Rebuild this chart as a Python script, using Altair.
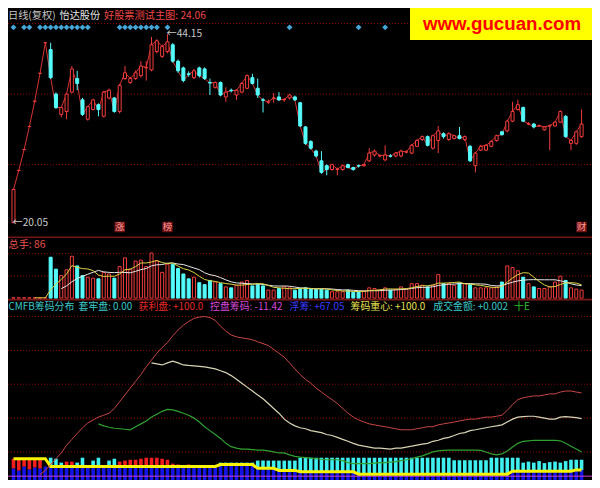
import altair as alt
import pandas as pd

# ================= DATA =================
# daily candles (yuan)
opens = [20.05, 26.73, 29.40, 32.35, 35.58, 39.14, 43.05, 42.17, 36.49, 33.89,
         34.26, 36.74, 38.47, 35.75, 33.28, 34.51, 35.13, 33.65, 35.99, 35.99,
         34.26, 38.47, 37.97, 38.47, 38.84, 39.83, 39.58, 41.93, 41.31, 41.93,
         42.79, 40.69, 39.83, 39.08, 38.59, 39.83, 39.70, 37.97, 37.35, 37.97,
         36.12, 36.98, 36.37, 36.74, 37.23, 38.59, 37.23, 35.75, 35.45, 35.95,
         36.12, 35.75, 35.99, 36.12, 35.38, 32.29, 30.43, 29.20, 27.96, 27.34,
         26.85, 26.85, 26.85, 27.47, 27.10, 27.34, 27.34, 27.96, 28.70, 28.58,
         28.08, 28.58, 28.58, 28.58, 29.07, 28.95, 29.81, 30.68, 31.05, 29.57,
         30.56, 31.42, 30.68, 30.80, 31.17, 30.68, 29.81, 27.34, 29.32, 29.32,
         29.81, 30.56, 31.67, 31.79, 33.03, 34.51, 34.76, 32.66, 32.66, 32.41,
         31.92, 32.41, 32.41, 32.90, 33.65, 30.19, 30.19, 31.05]
highs = [24.30, 26.73, 29.40, 32.35, 35.58, 39.14, 43.05, 43.05, 36.70, 34.90,
         36.60, 40.07, 39.46, 36.00, 35.00, 35.90, 35.30, 36.90, 37.20, 36.10,
         37.80, 40.07, 38.70, 39.50, 40.69, 40.69, 43.78, 43.50, 42.80, 44.15,
         43.00, 40.90, 40.00, 39.40, 39.70, 40.00, 39.90, 38.47, 38.10, 38.10,
         37.35, 37.20, 37.10, 38.00, 39.00, 39.08, 38.47, 36.00, 35.80, 36.61,
         36.74, 36.00, 36.50, 36.30, 35.50, 32.40, 30.60, 29.40, 29.20, 27.50,
         27.60, 27.10, 27.50, 27.60, 27.20, 27.50, 27.60, 29.57, 29.40, 28.80,
         29.94, 28.80, 29.10, 29.40, 29.30, 30.10, 30.70, 31.20, 31.20, 31.30,
         32.41, 31.60, 31.60, 31.30, 32.29, 31.20, 30.00, 29.10, 30.00, 30.10,
         30.60, 31.30, 31.80, 33.20, 35.50, 35.75, 34.90, 32.90, 32.80, 32.60,
         32.40, 32.60, 33.00, 34.40, 33.80, 30.70, 31.80, 34.51]
lows = [20.05, 26.73, 29.40, 32.35, 35.58, 39.14, 43.05, 38.40, 34.60, 33.52,
        33.28, 36.60, 36.98, 33.70, 33.10, 34.40, 33.65, 33.50, 35.80, 34.10,
        34.00, 38.30, 37.80, 38.30, 38.60, 38.22, 39.40, 41.70, 41.10, 41.70,
        40.50, 39.20, 38.00, 38.70, 38.40, 38.60, 38.30, 36.37, 37.20, 36.20,
        35.50, 36.70, 35.75, 36.60, 37.10, 37.70, 35.99, 34.14, 35.20, 35.38,
        35.60, 35.50, 35.80, 35.60, 32.30, 30.00, 29.40, 28.40, 26.30, 26.11,
        26.70, 26.11, 26.70, 27.00, 26.70, 27.10, 27.20, 27.80, 28.50, 28.40,
        27.90, 28.40, 28.40, 28.40, 28.90, 28.80, 29.70, 30.50, 29.80, 29.40,
        28.95, 30.80, 30.50, 30.70, 30.70, 30.50, 27.80, 26.48, 29.20, 29.20,
        29.70, 30.40, 31.20, 31.60, 32.90, 34.40, 32.90, 32.50, 32.10, 32.30,
        31.80, 29.32, 32.30, 32.80, 30.90, 29.32, 30.00, 30.90]
closes = [24.30, 26.73, 29.40, 32.35, 35.58, 39.14, 43.05, 38.59, 34.76, 34.76,
          36.49, 39.70, 37.85, 33.89, 34.88, 35.75, 34.51, 36.74, 36.98, 34.26,
          37.60, 39.21, 38.47, 39.21, 40.07, 39.90, 42.79, 43.29, 42.55, 43.16,
          40.69, 39.46, 38.22, 39.00, 39.46, 38.84, 38.47, 37.90, 37.97, 36.37,
          36.74, 36.92, 36.98, 37.85, 38.84, 37.85, 36.37, 35.70, 35.50, 35.99,
          35.75, 35.80, 36.37, 35.75, 32.41, 30.19, 29.57, 28.58, 26.48, 26.85,
          27.47, 26.90, 27.34, 27.10, 26.85, 27.30, 27.47, 28.95, 29.20, 28.62,
          28.70, 28.55, 28.95, 29.20, 29.10, 29.94, 30.56, 31.05, 29.94, 31.17,
          31.79, 31.05, 31.42, 31.17, 30.80, 31.05, 27.96, 28.95, 29.81, 29.94,
          30.43, 31.17, 31.30, 33.03, 34.26, 35.13, 33.03, 32.70, 32.29, 32.45,
          32.29, 32.45, 32.90, 34.26, 31.05, 30.56, 31.67, 32.66]
volumes = [1, 1, 1, 1, 1, 1, 1, 127, 90, 70,
           88, 130, 100, 70, 65, 62, 60, 80, 75, 62,
           98, 125, 90, 115, 118, 98, 140, 115, 80, 105,
           105, 92, 75, 60, 65, 48, 42, 55, 50, 45,
           35, 32, 40, 50, 55, 38, 42, 38, 25, 25,
           30, 35, 32, 25, 30, 32, 30, 27, 27, 25,
           20, 20, 20, 25, 18, 20, 22, 32, 30, 25,
           32, 25, 28, 35, 28, 45, 45, 40, 35, 40,
           73, 45, 45, 40, 47, 45, 42, 32, 32, 32,
           32, 35, 50, 100, 95, 85, 65, 45, 35, 30,
           30, 35, 50, 68, 55, 32, 28, 25]

diamond_idx = [0, 2, 3, 5, 6, 7, 8, 9, 10, 11, 12, 13, 14,
               20, 21, 22, 23, 24, 25, 26, 27, 29, 52, 65, 70]
diamond_level = 45.02
event_idx = [20, 29, 107]
event_text = ["涨", "榜", "财"]
price_grid = [45.51, 36.49, 27.47]
vol_grid = [69, 138]
cmfb_grid = [20, 40, 60, 80, 100]

# CMFB indicator
profit_start = 5
profit = [6.6, 9.1, 12.6, 16.0, 19.4, 24.0, 27.4, 30.9, 34.3, 37.1, 38.9,
          40.6, 41.7, 42.9, 45.7, 49.7, 53.7, 57.7, 61.7, 65.7, 70.3,
          74.3, 78.3, 81.7, 84.6, 88.6, 92.0, 94.9, 97.1, 98.9, 99.7,
          100.0, 99.4, 97.7, 94.3, 91.4, 89.1, 88.0, 87.4, 86.9, 86.3,
          85.1, 84.0, 82.9, 80.6, 78.3, 76.0, 72.6, 69.1, 65.7, 62.9,
          60.6, 57.7, 55.4, 53.1, 50.9, 48.6, 45.7, 42.9, 40.6, 38.9,
          37.7, 36.6, 36.0, 35.4, 34.9, 34.3, 33.7, 33.1, 33.1, 33.1,
          33.7, 34.3, 34.9, 34.9, 36.0, 36.6, 37.1, 37.7, 38.3, 38.9,
          39.4, 39.4, 40.0, 40.6, 40.6, 41.1, 41.7, 44.6, 48.0, 50.9,
          52.0, 52.6, 53.1, 53.1, 53.7, 54.3, 54.3, 55.4, 56.0, 56.0,
          55.4, 54.9]
cost_start = 26
cost = [72.6, 72.0, 71.4, 72.6, 73.7, 72.6, 71.4, 71.1, 70.9, 70.6,
        70.3, 69.7, 69.1, 68.0, 66.9, 65.1, 62.9, 60.6, 58.3, 56.0,
        53.7, 51.4, 48.6, 45.7, 42.9, 39.4, 37.1, 35.4, 34.3, 33.7,
        32.6, 32.0, 31.4, 30.3, 29.7, 28.6, 27.4, 26.3, 25.1, 24.0,
        23.4, 22.9, 22.3, 22.3, 22.0, 21.7, 22.3, 22.3, 22.9, 23.4,
        24.0, 24.6, 25.1, 26.3, 26.9, 28.0, 28.6, 29.7, 30.9, 31.4,
        32.6, 33.1, 33.7, 34.3, 34.9, 35.4, 36.0, 37.7, 39.4, 40.6,
        40.9, 41.1, 41.1, 40.6, 40.0, 39.4, 39.4, 40.6, 40.9, 40.6,
        40.3, 39.7]
control_start = 16
control = [36.6, 35.4, 34.6, 34.0, 33.7, 33.4, 33.1, 34.9, 36.6, 38.3,
           40.6, 42.3, 44.0, 45.1, 44.9, 44.0, 42.9, 41.7, 40.0, 37.7,
           34.9, 32.6, 30.3, 28.0, 25.1, 23.1, 22.3, 21.7, 21.7, 21.4,
           21.1, 21.1, 20.6, 20.0, 19.4, 19.4, 18.3, 17.4, 16.9, 16.6,
           16.3, 16.0, 15.7, 15.4, 15.4, 15.4, 14.9, 13.7, 13.1, 13.1,
           13.1, 13.1, 13.4, 13.7, 13.7, 14.0, 14.3, 14.9, 15.4, 16.0,
           16.9, 17.7, 18.9, 20.0, 20.6, 20.9, 21.1, 21.1, 21.1, 21.1,
           21.1, 21.1, 20.9, 20.0, 18.9, 18.3, 18.9, 20.6, 22.9, 25.1,
           26.3, 26.6, 26.9, 26.9, 26.9, 26.9, 26.9, 26.6, 25.1, 23.4,
           21.7, 20.0]
center = [16.0, 16.0, 16.0, 16.0, 16.0, 16.0, 16.0, 11.4, 11.4, 11.4,
          11.4, 11.4, 11.4, 11.4, 11.4, 11.4, 11.4, 11.4, 11.4, 11.4,
          11.4, 11.4, 11.4, 11.4, 11.4, 11.4, 11.4, 11.4, 11.4, 11.4,
          11.4, 11.4, 11.4, 11.4, 11.4, 11.4, 11.4, 11.4, 11.4, 12.6,
          12.6, 12.6, 12.6, 12.6, 12.6, 12.6, 10.3, 10.3, 10.3, 10.3,
          9.1, 9.1, 9.1, 9.1, 8.3, 8.3, 8.3, 8.3, 8.3, 8.3,
          8.3, 8.3, 8.3, 8.3, 8.3, 6.9, 6.9, 6.9, 6.9, 6.9,
          6.9, 6.9, 6.9, 6.9, 6.9, 6.9, 6.9, 6.9, 6.9, 6.9,
          6.9, 6.9, 6.9, 6.9, 6.9, 6.9, 6.9, 6.9, 6.9, 6.9,
          6.9, 6.9, 6.9, 6.9, 8.6, 8.6, 8.6, 8.6, 8.6, 8.6,
          8.6, 8.6, 8.6, 8.6, 8.6, 8.6, 9.4, 9.4]
base_chips = [10.3, 9.1, 11.4, 9.7, 10.9, 10.3, 11.4]
red_chips = ([16.0, 16.0, 16.0, 16.0, 16.0, 16.0, None, None, None, None,
              14.3, 14.3, None, None, None, None, None, None, None, None,
              14.3, 14.9, 15.4, 15.4, 16.0, 16.6, 16.6, 16.6, 16.0, 15.4,
              13.1, 12.6, None, 12.6] + [None] * 74)
cyan_chips = [None, None, None, None, None, None, None, 16.6, 16.0, 13.7,
              None, None, 13.7, 16.6, None, 14.9, 16.6, None, 14.9, 16.0,
              None, None, None, None, None, None, None, None, None, None,
              None, None, None, None, None, None, None, None, None, 13.7,
              13.7, 13.7, 13.7, 13.7, 13.7, 13.7, 14.9, 14.9, 14.9, 14.9,
              14.9, 14.9, 14.9, 14.9, 16.6, 16.6, 16.6, 16.6, 16.6, 16.6,
              16.6, 16.6, 16.6, 16.6, 16.6, 16.6, 16.6, 16.6, 16.6, 16.6,
              16.6, 16.6, 16.6, 16.6, 16.6, 16.6, 16.6, 16.6, 16.6, 16.6,
              16.6, 16.6, 16.6, 15.1, 15.1, 15.1, 15.1, 15.1, 15.1, 15.1,
              16.6, 16.6, 16.6, 16.6, 16.6, 16.6, 13.7, 14.3, 13.7, 14.6,
              13.4, 14.0, 14.3, 13.7, 14.6, 15.4, 15.4, 15.4]
float_level = 5.7

# ================= BUILD =================
W, H = 584, 472
CJK = "Noto Sans CJK SC"
RED = "#f23c3c"
CYAN = "#54fcfc"
GRID = "#8b0000"

N = len(closes)
idx = list(range(N))
df = pd.DataFrame(dict(i=idx, o=opens, h=highs, l=lows, c=closes, v=volumes))
df["z"] = 0
up = df[df.c >= df.o]
dn = df[df.c < df.o]

blue_top = base_chips + center[len(base_chips):]
chips = pd.DataFrame(dict(i=idx, btop=blue_top, rtop=red_chips, ctop=cyan_chips, yel=center))
chips["bb"] = 3.0
red_df = chips.dropna(subset=["rtop"])
cyan_df = chips.dropna(subset=["ctop"])


def series(start, vals):
    return pd.DataFrame(dict(i=list(range(start, start + len(vals))), val=vals))


X = alt.X("i:Q", scale=alt.Scale(domain=[-0.09, 108.02], nice=False, zero=False), axis=None)
SA = alt.Scale(domain=[-12.83, 47.489], nice=False, zero=False)
SB = alt.Scale(domain=[-564, 900], nice=False, zero=False)
SC = alt.Scale(domain=[3.43, 282.29], nice=False, zero=False)


def Y(f, s):
    return alt.Y(f, scale=s, axis=None)


def T(s, x, y, color, size=10.2, font=CJK, weight="normal", align="left"):
    return alt.Chart(alt.Data(values=[{}])).mark_text(
        text=s, align=align, baseline="middle", font=font, fontSize=size,
        color=color, fontWeight=weight
    ).encode(x=alt.value(x), y=alt.value(y))


def hrule(y, color, width=1.5):
    return alt.Chart(alt.Data(values=[{}])).mark_rule(color=color, strokeWidth=width).encode(
        x=alt.value(0), x2=alt.value(W), y=alt.value(y))


def grid(vals, s):
    return alt.Chart(pd.DataFrame(dict(g=vals))).mark_rule(
        color=GRID, strokeDash=[1, 2], strokeWidth=1
    ).encode(y=Y("g:Q", s), x=alt.value(0), x2=alt.value(W))


layers = []
# ---- main panel ----
layers.append(grid(price_grid, SA))
layers.append(alt.Chart(df).mark_line(color="#d83232", strokeWidth=1).encode(x=X, y=Y("c:Q", SA)))
layers.append(alt.Chart(up).mark_rule(color=RED, strokeWidth=1).encode(x=X, y=Y("l:Q", SA), y2="h:Q"))
layers.append(alt.Chart(dn).mark_rule(color=CYAN, strokeWidth=1).encode(x=X, y=Y("l:Q", SA), y2="h:Q"))
layers.append(alt.Chart(up).mark_bar(size=3, fill="black", stroke=RED, strokeWidth=1).encode(
    x=X, y=Y("o:Q", SA), y2="c:Q"))
layers.append(alt.Chart(dn).mark_bar(size=3, fill=CYAN, stroke=CYAN, strokeWidth=1).encode(
    x=X, y=Y("o:Q", SA), y2="c:Q"))
layers.append(alt.Chart(pd.DataFrame(dict(i=diamond_idx, p=diamond_level))).mark_point(
    shape="diamond", filled=True, size=34, color="#46a6d8", opacity=1).encode(x=X, y=Y("p:Q", SA)))

hi_i = highs.index(max(highs))
lo_i = lows.index(min(lows))
ext = pd.DataFrame(dict(i=[hi_i, lo_i], p=[max(highs), min(lows)],
                        t=["←%.2f" % max(highs), "←%.2f" % min(lows)]))
layers.append(alt.Chart(ext).mark_text(align="left", baseline="middle", font=CJK, fontSize=10.2,
                                       color="#c8c8c8", dx=-1).encode(x=X, y=Y("p:Q", SA), text="t:N"))

ev = pd.DataFrame(dict(i=event_idx, t=event_text))
layers.append(alt.Chart(ev).mark_point(shape="square", filled=True, size=110, color="#701212",
                                       opacity=1).encode(x=X, y=alt.value(219)))
layers.append(alt.Chart(ev).mark_text(font=CJK, fontSize=9.5, color="#ff9c9c", baseline="middle").encode(
    x=X, y=alt.value(219), text="t:N"))

layers.append(alt.Chart(alt.Data(values=[{}])).mark_rect(color="#ffff00").encode(
    x=alt.value(402), x2=alt.value(W), y=alt.value(0), y2=alt.value(32)))
layers.append(T("www.gucuan.com", 494, 16, "#ff0000", size=18.7, font="Liberation Sans",
                weight="bold", align="center"))
layers.append(T("日线(复权)", 0, 7.7, "#c8c8c8"))
layers.append(T("怡达股份", 51.5, 7.7, "#e8e8e8"))
layers.append(T("好股票测试主图: 24.06", 96, 7.7, "#f04848"))

# ---- volume panel ----
layers.append(hrule(229.2, "#741616", 1.6))
layers.append(grid(vol_grid, SB))
layers.append(alt.Chart(up).mark_bar(size=3, fill="black", stroke=RED, strokeWidth=1).encode(
    x=X, y=Y("v:Q", SB), y2="z:Q"))
layers.append(alt.Chart(dn).mark_bar(size=3, fill=CYAN, stroke=CYAN, strokeWidth=1).encode(
    x=X, y=Y("v:Q", SB), y2="z:Q"))
for n, col in ((10, "#e6e6e6"), (5, "#dcd444")):
    layers.append(
        alt.Chart(df).transform_window(ma="mean(v)", cnt="count()", frame=[-(n - 1), 0],
                                       sort=[alt.SortField("i", order="ascending")])
        .transform_filter("datum.cnt >= %d" % n)
        .mark_line(color=col, strokeWidth=1).encode(x=X, y=Y("ma:Q", SB)))
layers.append(T("总手: 86", 0.5, 237, "#e85050"))

# ---- CMFB panel ----
layers.append(hrule(291.6, "#7a1818", 1.6))
layers.append(grid(cmfb_grid, SC))
layers.append(alt.Chart(chips).mark_bar(size=3.6, color="#1414e6").encode(
    x=X, y=Y("btop:Q", SC), y2="bb:Q"))
layers.append(alt.Chart(red_df).mark_bar(size=3.6, color="#f01e1e").encode(
    x=X, y=Y("rtop:Q", SC), y2="btop:Q"))
layers.append(alt.Chart(cyan_df).mark_bar(size=3.6, color="#40f0f0").encode(
    x=X, y=Y("ctop:Q", SC), y2="btop:Q"))
layers.append(alt.Chart(pd.DataFrame(dict(g=[float_level]))).mark_rule(color="#d040d0", strokeWidth=1).encode(
    y=Y("g:Q", SC), x=alt.value(0), x2=alt.value(W)))
layers.append(alt.Chart(chips).mark_line(color="#f8f400", strokeWidth=3).encode(x=X, y=Y("yel:Q", SC)))
layers.append(alt.Chart(series(control_start, control)).mark_line(color="#30a030", strokeWidth=1.2).encode(
    x=X, y=Y("val:Q", SC)))
layers.append(alt.Chart(series(cost_start, cost)).mark_line(color="#d8d4b6", strokeWidth=1.2).encode(
    x=X, y=Y("val:Q", SC)))
layers.append(alt.Chart(series(profit_start, profit)).mark_line(color="#c84646", strokeWidth=1).encode(
    x=X, y=Y("val:Q", SC)))

ty = 298.8
fs = 9.9
layers.append(T("CMFB筹码分布", 0.5, ty, "#3cc8c8", size=fs))
layers.append(T("套牢盘: 0.00", 70.5, ty, "#3cc8c8", size=fs))
layers.append(T("获利盘: +100.0", 130.5, ty, "#e82828", size=fs))
layers.append(T("控盘筹码: -11.42", 202, ty, "#d848d8", size=fs))
layers.append(T("浮筹: +67.05", 281.5, ty, "#3c3cff", size=fs))
layers.append(T("筹码重心: +100.0", 342.6, ty, "#e8e050", size=fs))
layers.append(T("成交金额: +0.002", 425.3, ty, "#3cc8c8", size=fs))
layers.append(T("十E", 506.1, ty, "#30c030", size=fs))

chart = alt.layer(*layers).resolve_scale(y="independent").properties(
    width=W, height=H, background="black", padding=0,
    autosize=alt.AutoSizeParams(type="none")
).configure_view(strokeWidth=0)

chart.save("out.html", embed_options={"renderer": "svg", "actions": False})
